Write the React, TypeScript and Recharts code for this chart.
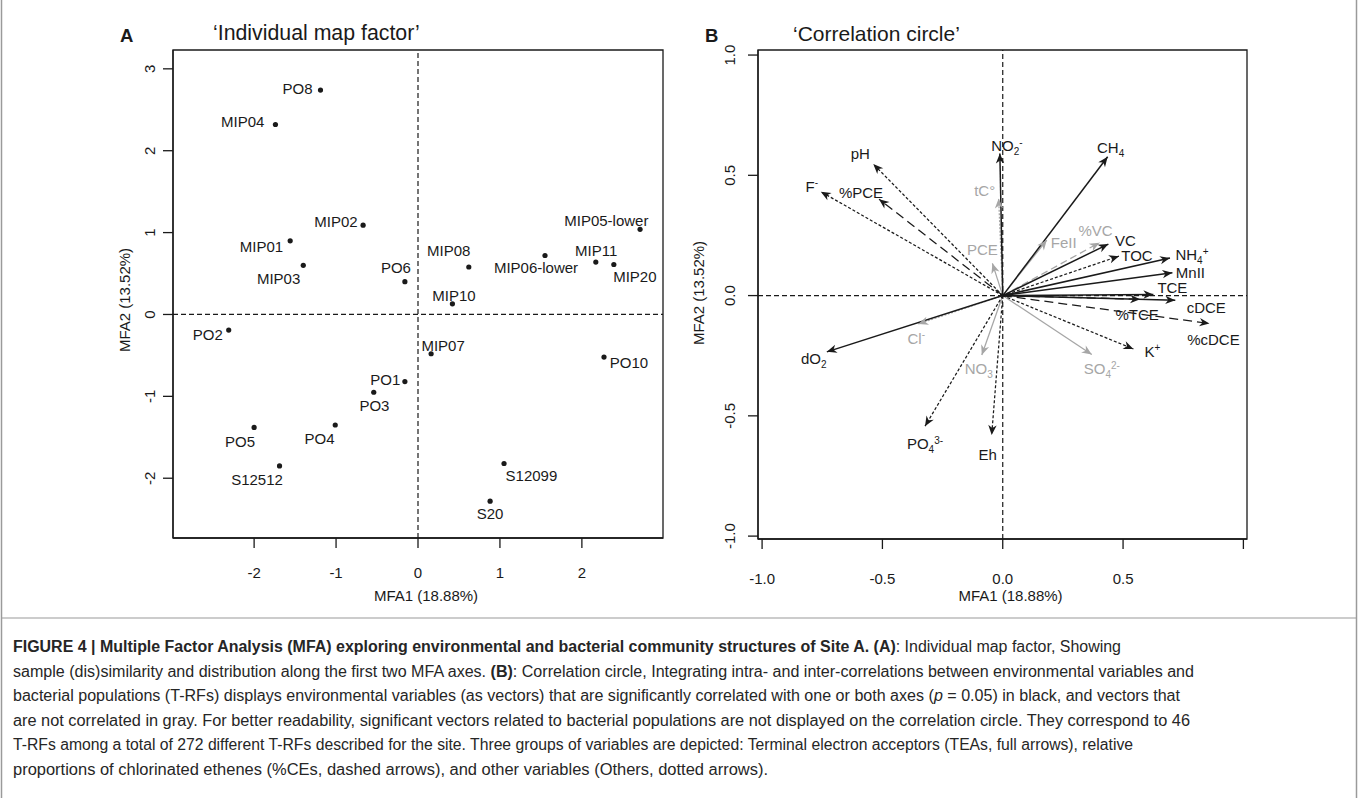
import React from 'react'
import {
  ScatterChart, Scatter, ComposedChart, Line, XAxis, YAxis, ReferenceLine, ReferenceArea,
} from 'recharts'

// ---- Panel A: individual map factor (sample scores on MFA1 / MFA2)
const sampleNames = [
  'PO8', 'MIP04', 'MIP02', 'MIP01', 'MIP03', 'PO6', 'MIP08', 'MIP10', 'PO2', 'MIP07', 'PO1',
  'PO3', 'PO5', 'PO4', 'S12512', 'S20', 'S12099', 'MIP05-lower', 'MIP06-lower', 'MIP11', 'MIP20', 'PO10',
]
const sampleMfa1 = [
  -1.19, -1.74, -0.67, -1.56, -1.4, -0.16, 0.62, 0.42, -2.31, 0.16, -0.16,
  -0.54, -2.0, -1.01, -1.69, 0.88, 1.05, 2.71, 1.55, 2.17, 2.39, 2.27,
]
const sampleMfa2 = [
  2.74, 2.32, 1.09, 0.9, 0.6, 0.4, 0.58, 0.13, -0.19, -0.48, -0.82,
  -0.95, -1.38, -1.35, -1.85, -2.28, -1.82, 1.04, 0.72, 0.64, 0.61, -0.52,
]
const aXTicks = [-2, -1, 0, 1, 2]
const aYTicks = [-2, -1, 0, 1, 2, 3]

// ---- Panel B: correlation circle (variable loadings)
const varNames = [
  'NO2-', 'CH4', 'tC°', 'PCE', 'FeII', '%VC', 'VC', 'TOC', 'NH4+', 'MnII', 'TCE', 'cDCE',
  '%TCE', '%cDCE', 'K+', 'SO42-', 'NO3', 'Eh', 'PO43-', 'dO2', 'Cl-', 'pH', 'F-', '%PCE',
]
const varMfa1 = [
  -0.012, 0.436, -0.017, -0.043, 0.183, 0.402, 0.439, 0.483, 0.695, 0.705, 0.626, 0.717,
  0.571, 0.859, 0.543, 0.37, -0.087, -0.046, -0.323, -0.731, -0.351, -0.538, -0.756, -0.514,
]
const varMfa2 = [
  0.591, 0.577, 0.404, 0.134, 0.231, 0.22, 0.214, 0.164, 0.156, 0.095, 0.005, -0.019,
  -0.015, -0.116, -0.222, -0.245, -0.247, -0.58, -0.543, -0.234, -0.118, 0.547, 0.432, 0.401,
]
// TEA = full arrows, CE = dashed (%CEs), Other = dotted
const varGroup = [
  'TEA', 'TEA', 'Other', 'TEA', 'TEA', 'CE', 'TEA', 'Other', 'TEA', 'TEA', 'TEA', 'TEA',
  'CE', 'CE', 'Other', 'TEA', 'TEA', 'Other', 'Other', 'TEA', 'Other', 'Other', 'Other', 'CE',
]
const varSignificant = [
  true, true, false, false, false, false, true, true, true, true, true, true,
  true, true, true, false, false, true, true, true, false, true, true, true,
]
const bTicks = [-1, -0.5, 0, 0.5, 1]

const FONT = '"Liberation Sans", Arial, Helvetica, sans-serif'
const INK = '#1a1a1a'
const GRAY = '#a6a6a6'

const A_X: [number, number] = [-2.99, 2.99]
const A_Y: [number, number] = [-2.73, 3.23]
const B_X: [number, number] = [-1.017, 1.015]
const B_Y: [number, number] = [-1.012, 1.021]

// label placement: [anchor, dx, dy of text centre] relative to the point
const sampleLabelPos: Record<string, [string, number, number]> = {
  PO8: ['end', -8, -2], MIP04: ['end', -11, -3], MIP02: ['end', -5.5, -3.5], MIP01: ['end', -7, 6],
  MIP03: ['end', -3, 13], PO6: ['middle', -9, -14], MIP08: ['middle', -20, -16.5], MIP10: ['middle', 1.5, -8],
  PO2: ['end', -6, 4], MIP07: ['middle', 12, -8.7], PO1: ['end', -4.5, -2], PO3: ['middle', 0.7, 13.7],
  PO5: ['middle', -14, 14], PO4: ['middle', -15.7, 13.6], S12512: ['middle', -22.5, 13.7], S20: ['middle', 0, 12.7],
  S12099: ['middle', 27.4, 12.3], 'MIP05-lower': ['middle', -33.7, -9.3], 'MIP06-lower': ['middle', -9, 12.3],
  MIP11: ['middle', 0.3, -11.3], MIP20: ['middle', 21, 12], PO10: ['start', 5.7, 5.7],
}

const varLabelPos: Record<string, [number, number]> = {
  'NO2-': [7, -8], CH4: [3, -9], 'tC°': [-14, -8], PCE: [-10, -14], FeII: [17, 2], '%VC': [-4, -12],
  VC: [17, -4], TOC: [18, -1], 'NH4+': [22, -4], MnII: [18, 0], TCE: [19, -7], cDCE: [31, 7],
  '%TCE': [-3, 15], '%cDCE': [4, 16], 'K+': [19, 3], 'SO42-': [10, 14], NO3: [-3, 14], Eh: [-4, 19],
  'PO43-': [0, 17], dO2: [-13, 7], 'Cl-': [-2, 15], pH: [-13, -11], 'F-': [-9, -5], '%PCE': [-18, -7],
}

// chemical formula parts: [main, subscript, superscript]
const formula: Record<string, [string, string, string]> = {
  'NO2-': ['NO', '2', '-'], CH4: ['CH', '4', ''], 'NH4+': ['NH', '4', '+'], 'SO42-': ['SO', '4', '2-'],
  NO3: ['NO', '3', ''], 'PO43-': ['PO', '4', '3-'], dO2: ['dO', '2', ''], 'Cl-': ['Cl', '', '-'],
  'K+': ['K', '', '+'], 'F-': ['F', '', '-'],
}

const samples = sampleNames.map((name, i) => ({ name, x: sampleMfa1[i], y: sampleMfa2[i] }))
const vectors = varNames.map((name, i) => ({
  name, x: varMfa1[i], y: varMfa2[i], group: varGroup[i], sig: varSignificant[i],
}))
// grey ones first so black arrows sit on top
const vectorOrder = [...vectors].sort((a, b) => Number(a.sig) - Number(b.sig))

const dashFor = (v: { group: string; sig: boolean }) => {
  if (v.group === 'CE') return v.sig ? '9 5' : '7 4'
  if (v.group === 'Other') return v.sig ? '3 2' : '2 1.5'
  return undefined
}

function RichLabel({ name }: { name: string }) {
  const f = formula[name]
  if (!f) return <>{name}</>
  const [main, sub, sup] = f
  return (
    <>
      {main}
      {sub && <tspan fontSize={10} dy={4}>{sub}</tspan>}
      {sup && <tspan fontSize={10} dy={sub ? -9 : -6}>{sup}</tspan>}
    </>
  )
}

function SampleDot(p: any) {
  const { cx, cy, payload } = p
  const [anchor, dx, dy] = sampleLabelPos[payload.name] ?? ['start', 5, 0]
  return (
    <g>
      <circle cx={cx} cy={cy} r={2.6} fill={INK} />
      <text x={cx + dx} y={cy + dy + 5.5} textAnchor={anchor as any} fontSize={15} fontFamily={FONT} fill={INK}>
        {payload.name}
      </text>
    </g>
  )
}

function VectorTip(p: any) {
  const { cx, cy, index, points, v } = p
  if (index !== 1 || cx == null) return <g />
  const o = points?.[0]
  const ang = o
    ? Math.atan2(cy - o.y, cx - o.x)
    : Math.atan2(-v.y, v.x)
  const col = v.sig ? INK : GRAY
  const [dx, dy] = varLabelPos[v.name] ?? [0, -10]
  return (
    <g>
      <path
        d="M0,0 L-10,-4.2 L-7,0 L-10,4.2 Z"
        fill={col}
        stroke="none"
        transform={`translate(${cx},${cy}) rotate(${(ang * 180) / Math.PI})`}
      />
      <text x={cx + dx} y={cy + dy + 5.5} textAnchor="middle" fontSize={15} fontFamily={FONT} fill={col}>
        <RichLabel name={v.name} />
      </text>
    </g>
  )
}

const xTick = (drop: number, fmt: (v: number) => string, skip?: number) => (p: any) => {
  const val = p.payload.value
  if (skip !== undefined && val === skip) return <g />
  return (
    <text x={p.x} y={p.y + drop} textAnchor="middle" fontSize={15} fontFamily={FONT} fill={INK}>
      {fmt(val)}
    </text>
  )
}

const yTick = (shift: number, fmt: (v: number) => string) => (p: any) => {
  const x = p.x - shift
  return (
    <text x={x} y={p.y} transform={`rotate(-90 ${x} ${p.y})`} textAnchor="middle" fontSize={15} fontFamily={FONT} fill={INK}>
      {fmt(p.payload.value)}
    </text>
  )
}

const captionLines: { end: number; parts: [string, string][] }[] = [
  { end: 1121, parts: [['FIGURE 4 | Multiple Factor Analysis (MFA) exploring environmental and bacterial community structures of Site A. (A)', 'b'], [': Individual map factor, Showing', '']] },
  { end: 1194, parts: [['sample (dis)similarity and distribution along the first two MFA axes. ', ''], ['(B)', 'b'], [': Correlation circle, Integrating intra- and inter-correlations between environmental variables and', '']] },
  { end: 1180, parts: [['bacterial populations (T-RFs) displays environmental variables (as vectors) that are significantly correlated with one or both axes (', ''], ['p', 'i'], [' = 0.05) in black, and vectors that', '']] },
  { end: 1190, parts: [['are not correlated in gray. For better readability, significant vectors related to bacterial populations are not displayed on the correlation circle. They correspond to 46', '']] },
  { end: 1133, parts: [['T-RFs among a total of 272 different T-RFs described for the site. Three groups of variables are depicted: Terminal electron acceptors (TEAs, full arrows), relative', '']] },
  { end: 768, parts: [['proportions of chlorinated ethenes (%CEs, dashed arrows), and other variables (Others, dotted arrows).', '']] },
]

function Overlay() {
  const t = { fontFamily: FONT, fill: INK }
  return (
    <svg width={1358} height={798} style={{ position: 'absolute', left: 0, top: 0 }}>
      <rect x={0} y={0} width={1358} height={798} fill="#fff" />
      <line x1={1.5} y1={0} x2={1.5} y2={798} stroke="#9a9a9a" strokeWidth={1.5} />
      <line x1={1356.5} y1={0} x2={1356.5} y2={798} stroke="#9a9a9a" strokeWidth={1.5} />
      <line x1={1.5} y1={618} x2={1356.5} y2={618} stroke="#9a9a9a" strokeWidth={1.2} />
      <text x={120} y={42.3} fontSize={18.5} fontWeight="bold" {...t}>A</text>
      <text x={213} y={40} fontSize={21.3} {...t}>‘Individual map factor’</text>
      <text x={705} y={42.3} fontSize={18.5} fontWeight="bold" {...t}>B</text>
      <text x={793} y={40.5} fontSize={21} {...t}>‘Correlation circle’</text>
      <text x={426} y={601} fontSize={15} textAnchor="middle" {...t}>MFA1 (18.88%)</text>
      <text x={1010.5} y={601} fontSize={15} textAnchor="middle" {...t}>MFA1 (18.88%)</text>
      <text x={130} y={300} fontSize={15} textAnchor="middle" transform="rotate(-90 130 300)" {...t}>MFA2 (13.52%)</text>
      <text x={704} y={293} fontSize={15} textAnchor="middle" transform="rotate(-90 704 293)" {...t}>MFA2 (13.52%)</text>
      {captionLines.map((ln, i) => (
        <text key={i} x={13} y={652 + i * 24.5} fontSize={16} fontFamily={FONT} fill="#262626"
          textLength={ln.end - 13} lengthAdjust="spacingAndGlyphs">
          {ln.parts.map(([s, st], j) => (
            <tspan key={j} fontWeight={st === 'b' ? 'bold' : 'normal'} fontStyle={st === 'i' ? 'italic' : 'normal'}>{s}</tspan>
          ))}
        </text>
      ))}
    </svg>
  )
}

export default function App() {
  const axisLine = { stroke: INK, strokeWidth: 1.3 }
  return (
    <div style={{ position: 'absolute', left: 0, top: 0, width: 1358, height: 798, background: '#fff' }}>
      <Overlay />
      <div style={{ position: 'absolute', left: 0, top: 0 }}>
        <ScatterChart width={700} height={620} margin={{ top: 50, right: 37, bottom: 22, left: 113 }}>
          <XAxis type="number" dataKey="x" domain={A_X} ticks={aXTicks} allowDataOverflow height={60}
            tickSize={10} tickMargin={2} axisLine={axisLine} tickLine={axisLine} tick={xTick(27.6, v => String(v))} />
          <YAxis type="number" dataKey="y" domain={A_Y} ticks={aYTicks} allowDataOverflow width={60}
            tickSize={10} tickMargin={2} axisLine={axisLine} tickLine={axisLine} tick={yTick(6, v => String(v))} />
          <ReferenceArea x1={A_X[0]} x2={A_X[1]} y1={A_Y[0]} y2={A_Y[1]} fill="none" fillOpacity={0}
            stroke={INK} strokeWidth={1.3} ifOverflow="visible" />
          <ReferenceLine x={0} stroke={INK} strokeWidth={1.2} strokeDasharray="5 3" />
          <ReferenceLine y={0} stroke={INK} strokeWidth={1.2} strokeDasharray="5 3" />
          <Scatter data={samples} shape={SampleDot} isAnimationActive={false} />
        </ScatterChart>
      </div>
      <div style={{ position: 'absolute', left: 700, top: 0 }}>
        <ComposedChart width={658} height={620} margin={{ top: 50, right: 111, bottom: 21, left: 8 }}>
          <XAxis type="number" dataKey="x" domain={B_X} ticks={bTicks} allowDataOverflow height={60}
            tickSize={10} tickMargin={2} axisLine={axisLine} tickLine={axisLine}
            tick={xTick(32.6, v => v.toFixed(1), 1)} />
          <YAxis type="number" dataKey="y" domain={B_Y} ticks={bTicks} allowDataOverflow width={50}
            tickSize={10} tickMargin={2} axisLine={axisLine} tickLine={axisLine} tick={yTick(11, v => v.toFixed(1))} />
          <ReferenceArea x1={B_X[0]} x2={B_X[1]} y1={B_Y[0]} y2={B_Y[1]} fill="none" fillOpacity={0}
            stroke={INK} strokeWidth={1.3} ifOverflow="visible" />
          <ReferenceLine x={0} stroke={INK} strokeWidth={1.2} strokeDasharray="5 3" />
          <ReferenceLine y={0} stroke={INK} strokeWidth={1.2} strokeDasharray="5 3" />
          {vectorOrder.map(v => (
            <Line
              key={v.name}
              data={[{ x: 0, y: 0 }, { x: v.x, y: v.y }]}
              dataKey="y"
              type="linear"
              stroke={v.sig ? INK : GRAY}
              strokeWidth={v.group === 'TEA' && v.sig ? 1.5 : 1.25}
              strokeDasharray={dashFor(v)}
              dot={(p: any) => <VectorTip key={`${v.name}-${p.index}`} {...p} v={v} />}
              activeDot={false}
              legendType="none"
              isAnimationActive={false}
            />
          ))}
        </ComposedChart>
      </div>
    </div>
  )
}
